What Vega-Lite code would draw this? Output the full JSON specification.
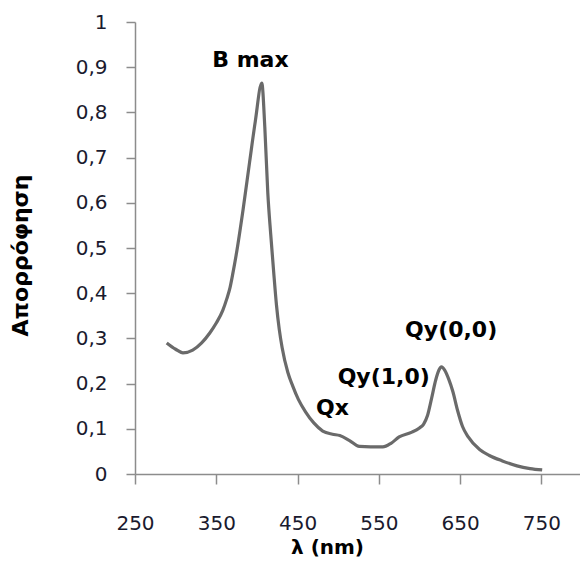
{
  "$schema": "https://vega.github.io/schema/vega-lite/v6.json",
  "width": 447,
  "height": 452,
  "autosize": "none",
  "padding": {"left": 135, "top": 22, "right": 0, "bottom": 91},
  "background": "white",
  "config": {
    "view": {"stroke": null},
    "font": "DejaVu Sans",
    "axis": {"grid": false, "domainColor": "#8c8c8c", "tickColor": "#8c8c8c", "domainWidth": 1.5, "tickWidth": 1.5, "labelColor": "#1a1a2e", "labelFont": "DejaVu Sans", "labelFontSize": 20, "titleFont": "DejaVu Sans", "titleFontWeight": "bold", "titleColor": "#000000"}
  },
  "layer": [
    {
      "data": {"values": [
        {"nm": 289, "A": 0.29},
        {"nm": 300, "A": 0.276},
        {"nm": 309, "A": 0.268},
        {"nm": 321, "A": 0.274},
        {"nm": 332, "A": 0.29},
        {"nm": 342, "A": 0.312},
        {"nm": 350, "A": 0.334},
        {"nm": 358, "A": 0.362},
        {"nm": 363, "A": 0.388},
        {"nm": 367, "A": 0.413},
        {"nm": 370, "A": 0.44},
        {"nm": 375, "A": 0.49},
        {"nm": 383, "A": 0.585},
        {"nm": 391, "A": 0.69},
        {"nm": 398, "A": 0.78},
        {"nm": 406, "A": 0.865},
        {"nm": 409.7, "A": 0.768},
        {"nm": 413.4, "A": 0.622},
        {"nm": 417, "A": 0.53},
        {"nm": 420.5, "A": 0.45},
        {"nm": 424, "A": 0.375},
        {"nm": 427.5, "A": 0.32},
        {"nm": 431, "A": 0.28},
        {"nm": 438, "A": 0.225},
        {"nm": 444, "A": 0.195},
        {"nm": 451, "A": 0.165},
        {"nm": 460, "A": 0.137},
        {"nm": 470, "A": 0.113},
        {"nm": 481, "A": 0.095},
        {"nm": 493, "A": 0.088},
        {"nm": 502, "A": 0.085},
        {"nm": 514, "A": 0.074},
        {"nm": 526, "A": 0.061},
        {"nm": 540, "A": 0.06},
        {"nm": 555, "A": 0.06},
        {"nm": 565, "A": 0.068},
        {"nm": 575, "A": 0.082},
        {"nm": 590, "A": 0.092},
        {"nm": 600, "A": 0.102},
        {"nm": 605, "A": 0.11},
        {"nm": 610, "A": 0.13},
        {"nm": 615, "A": 0.168},
        {"nm": 620, "A": 0.208},
        {"nm": 624, "A": 0.23},
        {"nm": 627, "A": 0.237},
        {"nm": 631, "A": 0.23},
        {"nm": 636, "A": 0.21},
        {"nm": 641, "A": 0.183},
        {"nm": 647, "A": 0.14},
        {"nm": 653, "A": 0.105},
        {"nm": 660, "A": 0.082},
        {"nm": 674, "A": 0.054},
        {"nm": 686, "A": 0.041},
        {"nm": 702, "A": 0.029},
        {"nm": 720, "A": 0.018},
        {"nm": 736, "A": 0.012},
        {"nm": 751, "A": 0.009}
      ]},
      "mark": {"type": "line", "color": "#6a6a6a", "strokeWidth": 3.2, "interpolate": "monotone"},
      "encoding": {
        "x": {"field": "nm", "type": "quantitative", "scale": {"domain": [250, 800], "nice": false, "zero": false},
          "axis": {"values": [250, 350, 450, 550, 650, 750], "tickSize": 10, "labelPadding": 29, "labelFlush": false, "title": "λ (nm)", "titleFontSize": 20, "titleX": 192, "titleY": 73, "titleBaseline": "middle", "titleAlign": "center"}},
        "y": {"field": "A", "type": "quantitative", "scale": {"domain": [0, 1], "nice": false},
          "axis": {"values": [0, 0.1, 0.2, 0.3, 0.4, 0.5, 0.6, 0.7, 0.8, 0.9, 1], "format": ",.1~f", "labelExpr": "replace(datum.label, '.', ',')", "tickSize": 9, "labelPadding": 19, "labelFlush": false, "title": "Απορρόφηση", "titleFontSize": 22, "titleAngle": -90, "titleX": -115, "titleY": 233, "titleAlign": "center", "titleBaseline": "middle"}}
      }
    },
    {
      "data": {"values": [
        {"nm": 392, "A": 0.916, "label": "B max"},
        {"nm": 493, "A": 0.146, "label": "Qx"},
        {"nm": 556, "A": 0.215, "label": "Qy(1,0)"},
        {"nm": 639, "A": 0.319, "label": "Qy(0,0)"}
      ]},
      "mark": {"type": "text", "font": "DejaVu Sans", "fontWeight": "bold", "fontSize": 22, "color": "#000000", "align": "center", "baseline": "middle"},
      "encoding": {
        "x": {"field": "nm", "type": "quantitative"},
        "y": {"field": "A", "type": "quantitative"},
        "text": {"field": "label", "type": "nominal"}
      }
    }
  ]
}
